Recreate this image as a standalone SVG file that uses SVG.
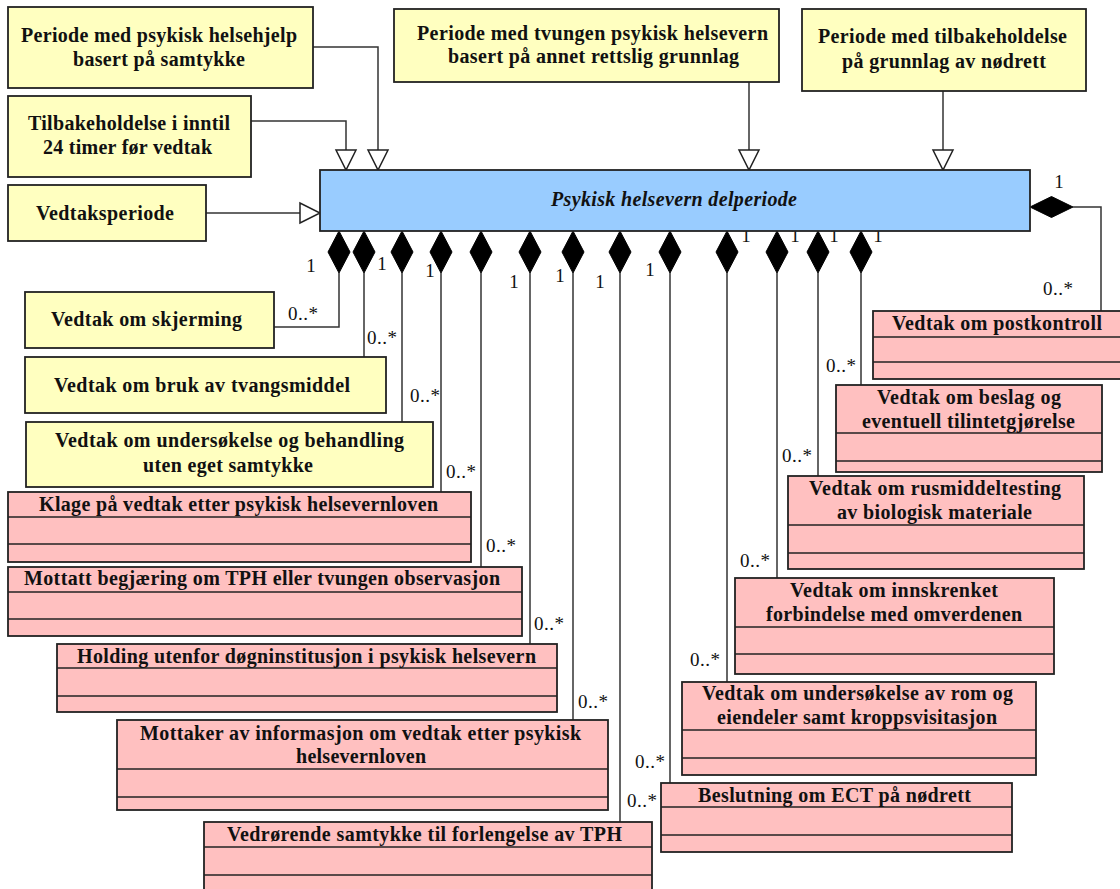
<svg xmlns="http://www.w3.org/2000/svg" width="1120" height="889" viewBox="0 0 1120 889">
<style>
.y{fill:#FFFFC0;stroke:#222;stroke-width:1.8}
.p{fill:#FFC0C0;stroke:#222;stroke-width:1.8}
.c{fill:#99CCFF;stroke:#222;stroke-width:1.8}
.sep{stroke:#222;stroke-width:1.6}
.t{font-family:"Liberation Serif","Times New Roman",serif;font-weight:bold;font-size:20px;fill:#111;text-anchor:middle}
.ti{font-family:"Liberation Serif","Times New Roman",serif;font-weight:bold;font-style:italic;font-size:20px;fill:#111;text-anchor:middle}
.m{font-family:"Liberation Serif","Times New Roman",serif;font-size:19px;fill:#111}
.mc{font-family:"Liberation Serif","Times New Roman",serif;font-size:19px;fill:#111;text-anchor:middle}
.ln{fill:none;stroke:#333;stroke-width:1.5}
.gen{fill:#fff;stroke:#222;stroke-width:1.5}
.dia{fill:#000;stroke:#000;stroke-width:1}
</style>

<g id="connectors">
  <polyline class="ln" points="313,47 378,47 378,150"/>
  <polygon class="gen" points="368,150 388,150 378,170"/>
  <polyline class="ln" points="251,121 346,121 346,150"/>
  <polygon class="gen" points="336,150 356,150 346,170"/>
  <polyline class="ln" points="206,213 300,213"/>
  <polygon class="gen" points="300,203 300,223 320,213"/>
  <polyline class="ln" points="749,82 749,150"/>
  <polygon class="gen" points="739,150 759,150 749,170"/>
  <polyline class="ln" points="943,91 943,150"/>
  <polygon class="gen" points="933,150 953,150 943,170"/>

  <polyline class="ln" points="339,273 339,327 274,327"/>
  <polyline class="ln" points="364,273 364,357"/>
  <polyline class="ln" points="402,273 402,422"/>
  <polyline class="ln" points="441,273 441,492"/>
  <polyline class="ln" points="481,273 481,567"/>
  <polyline class="ln" points="530,273 530,644"/>
  <polyline class="ln" points="573,273 573,720"/>
  <polyline class="ln" points="620,273 620,822"/>
  <polyline class="ln" points="670,273 670,783"/>
  <polyline class="ln" points="727,273 727,682"/>
  <polyline class="ln" points="777,273 777,578"/>
  <polyline class="ln" points="818,273 818,476"/>
  <polyline class="ln" points="861,273 861,385"/>
  <polyline class="ln" points="1073,207 1101,207 1101,311"/>

  <path class="dia" d="M339,231 L350,252 L339,273 L328,252 Z"/>
  <path class="dia" d="M364,231 L375,252 L364,273 L353,252 Z"/>
  <path class="dia" d="M402,231 L413,252 L402,273 L391,252 Z"/>
  <path class="dia" d="M441,231 L452,252 L441,273 L430,252 Z"/>
  <path class="dia" d="M481,231 L492,252 L481,273 L470,252 Z"/>
  <path class="dia" d="M530,231 L541,252 L530,273 L519,252 Z"/>
  <path class="dia" d="M573,231 L584,252 L573,273 L562,252 Z"/>
  <path class="dia" d="M620,231 L631,252 L620,273 L609,252 Z"/>
  <path class="dia" d="M670,231 L681,252 L670,273 L659,252 Z"/>
  <path class="dia" d="M727,231 L738,252 L727,273 L716,252 Z"/>
  <path class="dia" d="M777,231 L788,252 L777,273 L766,252 Z"/>
  <path class="dia" d="M818,231 L829,252 L818,273 L807,252 Z"/>
  <path class="dia" d="M861,231 L872,252 L861,273 L850,252 Z"/>
  <path class="dia" d="M1030,207 L1051.5,196.5 L1073,207 L1051.5,217.5 Z"/>

  <text class="mc" x="311" y="272">1</text>
  <text class="mc" x="382" y="270">1</text>
  <text class="mc" x="430" y="277">1</text>
  <text class="mc" x="514" y="288">1</text>
  <text class="mc" x="560" y="282">1</text>
  <text class="mc" x="600" y="288">1</text>
  <text class="mc" x="650" y="276">1</text>
  <text class="mc" x="746" y="242">1</text>
  <text class="mc" x="795" y="242">1</text>
  <text class="mc" x="834" y="242">1</text>
  <text class="mc" x="878" y="242">1</text>
  <text class="mc" x="1059" y="188">1</text>

  <text class="m" x="288" y="320" textLength="30">0..*</text>
  <text class="m" x="367" y="344" textLength="30">0..*</text>
  <text class="m" x="410" y="402" textLength="30">0..*</text>
  <text class="m" x="446" y="478" textLength="30">0..*</text>
  <text class="m" x="486" y="552" textLength="30">0..*</text>
  <text class="m" x="534" y="630" textLength="30">0..*</text>
  <text class="m" x="578" y="708" textLength="30">0..*</text>
  <text class="m" x="635" y="768" textLength="30">0..*</text>
  <text class="m" x="627" y="807" textLength="30">0..*</text>
  <text class="m" x="690" y="666" textLength="30">0..*</text>
  <text class="m" x="740" y="567" textLength="30">0..*</text>
  <text class="m" x="782" y="462" textLength="30">0..*</text>
  <text class="m" x="826" y="372" textLength="30">0..*</text>
  <text class="m" x="1043" y="295" textLength="30">0..*</text>
</g>

<g id="delperiode">
  <rect class="c" x="320" y="170" width="710" height="61"/>
  <text class="ti" x="674" y="206" textLength="246">Psykisk helsevern delperiode</text>
</g>

<g id="samtykke">
  <rect class="y" x="8" y="7" width="305" height="81"/>
  <text class="t" x="159" y="42" textLength="276">Periode med psykisk helsehjelp</text>
  <text class="t" x="159" y="66" textLength="172">basert på samtykke</text>
</g>
<g id="tilbakeholdelse24">
  <rect class="y" x="8" y="96" width="243" height="81"/>
  <text class="t" x="129" y="130" textLength="202">Tilbakeholdelse i inntil</text>
  <text class="t" x="127.5" y="154" textLength="169">24 timer før vedtak</text>
</g>
<g id="vedtaksperiode">
  <rect class="y" x="8" y="185" width="198" height="56"/>
  <text class="t" x="105" y="220" textLength="138">Vedtaksperiode</text>
</g>
<g id="tvungen">
  <rect class="y" x="394" y="9" width="385" height="73"/>
  <text class="t" x="592.5" y="40" textLength="351">Periode med tvungen psykisk helsevern</text>
  <text class="t" x="593.5" y="63" textLength="291">basert på annet rettslig grunnlag</text>
</g>
<g id="nodrett">
  <rect class="y" x="802" y="9" width="284" height="82"/>
  <text class="t" x="942.5" y="43" textLength="249">Periode med tilbakeholdelse</text>
  <text class="t" x="944" y="68" textLength="204">på grunnlag av nødrett</text>
</g>
<g id="skjerming">
  <rect class="y" x="25" y="292" width="249" height="56"/>
  <text class="t" x="146.5" y="326" textLength="191">Vedtak om skjerming</text>
</g>
<g id="tvangsmiddel">
  <rect class="y" x="25" y="357" width="361" height="56"/>
  <text class="t" x="202" y="392" textLength="296">Vedtak om bruk av tvangsmiddel</text>
</g>
<g id="behandling">
  <rect class="y" x="26" y="422" width="407" height="65"/>
  <text class="t" x="229.5" y="447" textLength="349">Vedtak om undersøkelse og behandling</text>
  <text class="t" x="228" y="472" textLength="170">uten eget samtykke</text>
</g>

<g id="klage">
  <rect class="p" x="8" y="492" width="463" height="70"/>
  <line class="sep" x1="8" y1="517" x2="471" y2="517"/>
  <line class="sep" x1="8" y1="544" x2="471" y2="544"/>
  <text class="t" x="238.5" y="511" textLength="399">Klage på vedtak etter psykisk helsevernloven</text>
</g>
<g id="mottatt">
  <rect class="p" x="8" y="567" width="514" height="69"/>
  <line class="sep" x1="8" y1="592" x2="522" y2="592"/>
  <line class="sep" x1="8" y1="619" x2="522" y2="619"/>
  <text class="t" x="262" y="585" textLength="476">Mottatt begjæring om TPH eller tvungen observasjon</text>
</g>
<g id="holding">
  <rect class="p" x="57" y="644" width="500" height="68"/>
  <line class="sep" x1="57" y1="668" x2="557" y2="668"/>
  <line class="sep" x1="57" y1="696" x2="557" y2="696"/>
  <text class="t" x="306.5" y="663" textLength="459">Holding utenfor døgninstitusjon i psykisk helsevern</text>
</g>
<g id="mottaker">
  <rect class="p" x="117" y="720" width="491" height="90"/>
  <line class="sep" x1="117" y1="769" x2="608" y2="769"/>
  <line class="sep" x1="117" y1="797" x2="608" y2="797"/>
  <text class="t" x="360.5" y="740" textLength="441">Mottaker av informasjon om vedtak etter psykisk</text>
  <text class="t" x="361" y="763" textLength="130">helsevernloven</text>
</g>
<g id="forlengelse">
  <rect class="p" x="204" y="822" width="448" height="90"/>
  <line class="sep" x1="204" y1="847" x2="652" y2="847"/>
  <line class="sep" x1="204" y1="875" x2="652" y2="875"/>
  <text class="t" x="424.5" y="841" textLength="395">Vedrørende samtykke til forlengelse av TPH</text>
</g>
<g id="postkontroll">
  <rect class="p" x="873" y="311" width="252" height="68"/>
  <line class="sep" x1="873" y1="337" x2="1125" y2="337"/>
  <line class="sep" x1="873" y1="362" x2="1125" y2="362"/>
  <text class="t" x="997" y="330" textLength="210">Vedtak om postkontroll</text>
</g>
<g id="beslag">
  <rect class="p" x="836" y="385" width="266" height="87"/>
  <line class="sep" x1="836" y1="433" x2="1102" y2="433"/>
  <line class="sep" x1="836" y1="461" x2="1102" y2="461"/>
  <text class="t" x="969" y="404" textLength="184">Vedtak om beslag og</text>
  <text class="t" x="968.5" y="428" textLength="213">eventuell tilintetgjørelse</text>
</g>
<g id="rusmiddel">
  <rect class="p" x="788" y="476" width="296" height="93"/>
  <line class="sep" x1="788" y1="525" x2="1084" y2="525"/>
  <line class="sep" x1="788" y1="553" x2="1084" y2="553"/>
  <text class="t" x="935" y="495" textLength="252">Vedtak om rusmiddeltesting</text>
  <text class="t" x="934.5" y="519" textLength="195">av biologisk materiale</text>
</g>
<g id="innskrenket">
  <rect class="p" x="735" y="578" width="319" height="96"/>
  <line class="sep" x1="735" y1="627" x2="1054" y2="627"/>
  <line class="sep" x1="735" y1="654" x2="1054" y2="654"/>
  <text class="t" x="894" y="597" textLength="208">Vedtak om innskrenket</text>
  <text class="t" x="894" y="621" textLength="256">forbindelse med omverdenen</text>
</g>
<g id="rom">
  <rect class="p" x="682" y="682" width="354" height="93"/>
  <line class="sep" x1="682" y1="730" x2="1036" y2="730"/>
  <line class="sep" x1="682" y1="758" x2="1036" y2="758"/>
  <text class="t" x="857.5" y="700" textLength="311">Vedtak om undersøkelse av rom og</text>
  <text class="t" x="857" y="724" textLength="280">eiendeler samt kroppsvisitasjon</text>
</g>
<g id="ect">
  <rect class="p" x="661" y="783" width="351" height="69"/>
  <line class="sep" x1="661" y1="807" x2="1012" y2="807"/>
  <line class="sep" x1="661" y1="835" x2="1012" y2="835"/>
  <text class="t" x="834.5" y="802" textLength="273">Beslutning om ECT på nødrett</text>
</g>
</svg>
